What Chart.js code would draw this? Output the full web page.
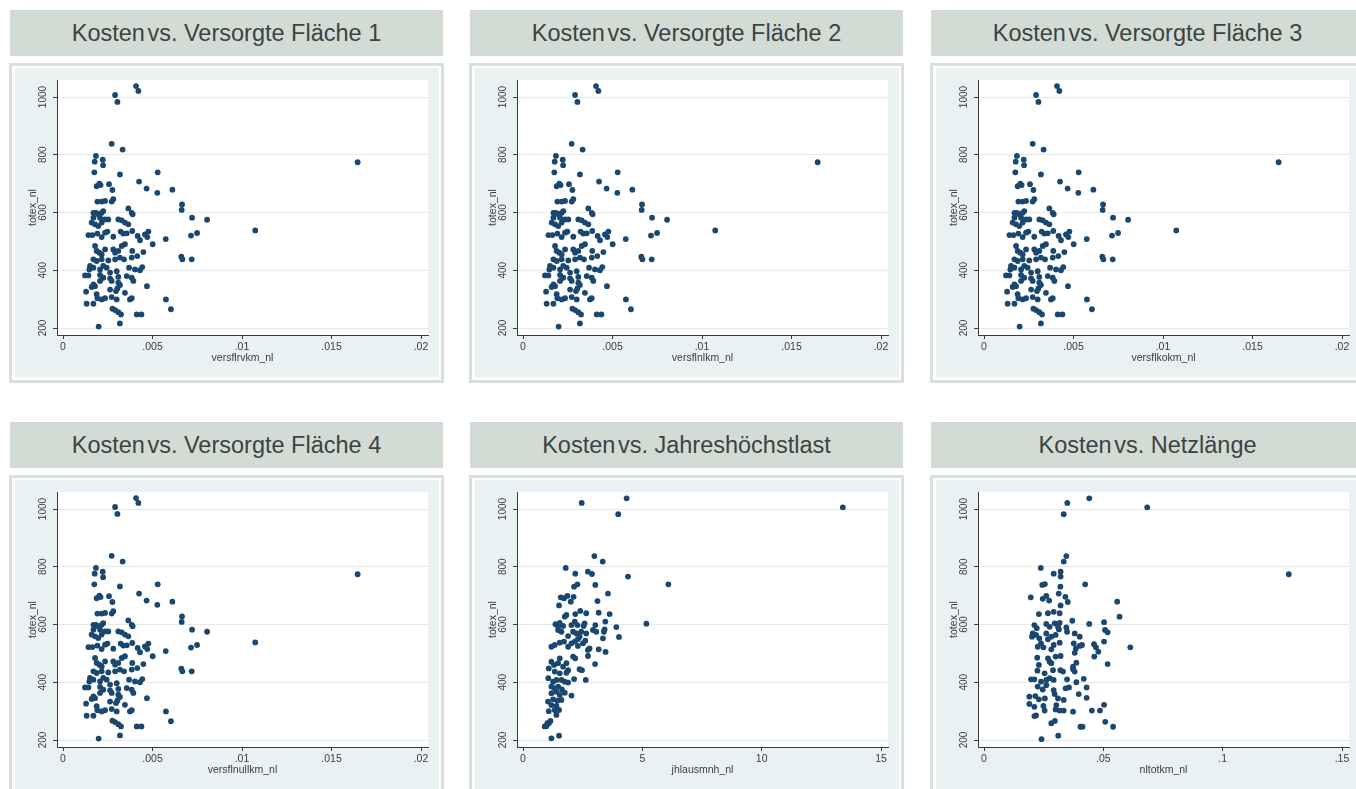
<!DOCTYPE html>
<html>
<head>
<meta charset="utf-8">
<script src="https://cdn.jsdelivr.net/npm/chart.js@4.4.0/dist/chart.umd.min.js"></script>
<style>
  body { margin: 0; width: 1356px; height: 789px; overflow: hidden; background: #fff; position: relative;
         font-family: "Liberation Sans", Arial, sans-serif; }
  .head { position: absolute; width: 433px; height: 46px; background: #d3dcd4; color: #3c4246;
          font-size: 23.5px; line-height: 46px; text-align: center; white-space: nowrap; }
  .head .k { word-spacing: -4px; }
  .frame { position: absolute; width: 435px; height: 320px; box-sizing: border-box;
           border: 3px solid #d8e0d9; background: #fff; }
  .frame canvas { position: absolute; left: 3px; top: 2px; background: #eaf1f3; }
</style>
</head>
<body>
<script>
// totex_nl vs. versorgte Fläche (same scatter in all four Fläche panels)
const FLAECHE_X = [
  .00408, .00421, .00291, .00304, .00272, .00333, .00184, .00177, .00222, .00224,
  .00175, .00318, .00529, .00188, .00203, .00210, .00257, .00276, .00425, .00467,
  .00527, .00611, .00192, .00216, .00235, .00272, .00281, .00665, .00663, .00365,
  .00384, .00389, .00170, .00184, .00197, .00207, .00216, .00225, .00170, .00160,
  .00179, .00197, .00216, .00235, .00253, .00309, .00328, .00346, .00365, .00721,
  .00805, .00142, .00164, .00192, .00216, .00235, .00248, .00281, .00322, .00337,
  .00356, .00387, .00417, .00430, .00458, .00477, .00471, .00574, .00501, .00715,
  .00749, .00179, .00188, .00203, .00216, .00235, .00281, .00291, .00309, .00328,
  .00346, .00387, .00415, .00449, .00170, .00188, .00216, .00253, .00291, .00318,
  .00341, .00384, .00661, .00667, .00719, .00151, .00170, .00147, .00207, .00225,
  .00244, .00263, .00300, .00369, .00402, .00430, .00443, .00123, .00142, .00207,
  .00225, .00263, .00272, .00309, .00356, .00384, .00393, .00170, .00160, .00207,
  .00309, .00318, .00304, .00129, .00179, .00263, .00296, .00346, .00188, .00192,
  .00216, .00235, .00272, .00300, .00374, .00384, .00469, .00132, .00170, .00575,
  .00603, .00276, .00291, .00309, .00324, .00412, .00438, .00199, .00318, .01646, .01074
];
const FLAECHE_Y = [
  1038, 1021, 1007, 983, 838, 818, 796, 776, 783, 764,
  739, 732, 739, 691, 700, 695, 698, 678, 707, 683,
  668, 679, 638, 638, 640, 638, 646, 628, 609, 614,
  599, 594, 599, 599, 594, 582, 599, 605, 582, 565,
  559, 553, 565, 576, 576, 576, 573, 565, 559, 582,
  575, 522, 522, 527, 515, 530, 534, 516, 534, 527,
  528, 536, 519, 504, 524, 534, 515, 508, 490, 520,
  529, 484, 467, 461, 455, 472, 472, 461, 467, 484,
  490, 467, 449, 463, 438, 432, 438, 434, 438, 444,
  438, 444, 447, 438, 438, 415, 409, 403, 403, 415,
  409, 392, 397, 409, 403, 400, 411, 382, 382, 384,
  374, 372, 363, 377, 380, 374, 363, 351, 342, 363,
  357, 349, 337, 326, 345, 333, 328, 322, 317, 303,
  299, 303, 307, 299, 299, 303, 345, 284, 284, 299,
  265, 267, 262, 255, 247, 247, 247, 205, 216, 774, 538
];

// totex_nl vs. Jahreshöchstlast
const LAST_X = [
  2.46, 4.34, 3.99, 2.99, 3.34, 1.79, 2.19, 2.72, 2.89, 4.40,
  2.14, 2.28, 3.03, 6.09, 3.56, 1.58, 1.72, 1.86, 2.12, 2.00,
  3.12, 1.51, 2.40, 1.82, 1.75, 2.19, 2.65, 3.17, 3.63, 1.36,
  1.47, 1.54, 1.68, 2.03, 2.17, 2.28, 2.58, 2.54, 3.03, 3.45,
  3.91, 5.17, 1.47, 1.61, 1.89, 2.10, 2.24, 2.37, 2.44, 2.65,
  2.93, 3.07, 3.39, 3.42, 3.35, 4.02, 1.19, 1.33, 1.54, 1.72,
  1.89, 2.03, 2.17, 2.30, 2.30, 2.51, 2.61, 2.79, 2.72, 3.17,
  3.46, 1.19, 1.30, 1.47, 1.54, 1.68, 1.82, 1.89, 2.10, 2.19,
  2.37, 2.47, 2.72, 3.02, 1.08, 1.33, 1.54, 1.82, 1.06, 1.26,
  1.40, 1.61, 1.75, 1.89, 2.14, 2.63, 1.19, 1.33, 1.47, 1.63,
  1.19, 1.40, 1.54, 1.75, 2.03, 1.05, 1.26, 1.44, 1.61, 1.19,
  1.40, 1.08, 1.33, 1.51, 1.40, 0.98, 1.08, 1.15, 1.02, 1.19,
  1.51, 0.91, 13.40
];
const LAST_Y = [
  1021, 1037, 982, 837, 818, 796, 776, 783, 775, 766,
  731, 739, 737, 739, 707, 694, 691, 699, 696, 679,
  681, 666, 647, 633, 627, 636, 639, 641, 636, 601,
  593, 606, 595, 598, 610, 598, 604, 595, 598, 610,
  591, 603, 581, 575, 560, 575, 569, 558, 575, 569,
  581, 575, 575, 583, 552, 557, 523, 529, 537, 541,
  523, 535, 541, 549, 526, 535, 544, 517, 512, 514,
  505, 471, 460, 466, 483, 454, 466, 442, 489, 483,
  445, 442, 491, 463, 448, 437, 431, 433, 414, 402,
  408, 408, 402, 399, 411, 408, 385, 379, 385, 375,
  362, 367, 356, 364, 354, 333, 341, 336, 339, 321,
  318, 300, 304, 304, 287, 248, 258, 266, 258, 206,
  215, 247, 1006
];

// totex_nl vs. Netzlänge
const NETZ_X = [
  .0349, .0441, .0334, .0345, .0334, .0238, .0292, .0321, .0321, .0424,
  .0244, .0255, .0320, .0196, .0246, .0261, .0273, .0313, .0341, .0351,
  .0321, .0558, .0568, .0230, .0268, .0292, .0317, .0370, .0441, .0503,
  .0211, .0221, .0261, .0275, .0296, .0310, .0317, .0345, .0348, .0507,
  .0518, .0380, .0401, .0204, .0201, .0218, .0232, .0261, .0268, .0282,
  .0300, .0314, .0225, .0239, .0249, .0282, .0292, .0317, .0376, .0385,
  .0401, .0380, .0411, .0461, .0469, .0479, .0503, .0462, .0613, .0223,
  .0268, .0275, .0282, .0300, .0321, .0387, .0373, .0230, .0224, .0289,
  .0320, .0331, .0373, .0380, .0518, .0254, .0197, .0211, .0239, .0261,
  .0275, .0292, .0348, .0387, .0418, .0225, .0246, .0261, .0292, .0342,
  .0356, .0430, .0190, .0215, .0230, .0255, .0296, .0310, .0334, .0397,
  .0430, .0190, .0211, .0249, .0303, .0503, .0254, .0300, .0317, .0334,
  .0373, .0452, .0486, .0211, .0218, .0282, .0297, .0404, .0413, .0508,
  .0541, .0241, .0311, .0684, .1277
];
const NETZ_Y = [
  1021, 1037, 982, 837, 818, 796, 776, 783, 766, 739,
  737, 740, 731, 694, 689, 699, 683, 707, 696, 678,
  666, 679, 627, 636, 639, 644, 639, 613, 602, 608,
  598, 587, 602, 592, 604, 592, 606, 590, 575, 581,
  573, 569, 558, 569, 558, 564, 552, 569, 549, 558,
  564, 583, 523, 535, 521, 514, 529, 537, 535, 517,
  526, 502, 529, 532, 521, 506, 541, 489, 521, 485,
  483, 471, 466, 489, 491, 468, 454, 460, 440, 442,
  442, 437, 445, 437, 463, 431, 410, 410, 402, 408,
  414, 408, 410, 400, 412, 385, 375, 390, 373, 379,
  382, 382, 350, 352, 341, 344, 359, 344, 339, 359,
  346, 325, 315, 318, 321, 322, 302, 306, 302, 302,
  298, 302, 302, 283, 285, 258, 266, 246, 246, 263,
  246, 203, 215, 1006, 774
];

const Y_TICKS = [200, 400, 600, 800, 1000];
const Y_LABELS = ['200', '400', '600', '800', '1000'];
const X_TICKS_FLAECHE = [0, .005, .01, .015, .02];
const X_LABELS_FLAECHE = ['0', '.005', '.01', '.015', '.02'];
const X_TICKS_LAST = [0, 5, 10, 15];
const X_LABELS_LAST = ['0', '5', '10', '15'];
const X_TICKS_NETZ = [0, .05, .1, .15];
const X_LABELS_NETZ = ['0', '.05', '.1', '.15'];

const DOT = '#1a476f';
const INK = '#383c40';
const COL_LEFT = [9, 469, 930];
const ROW_TOP = [63, 475];

const PANELS = [
  { title: 'Versorgte Fläche 1', xTitle: 'versflrvkm_nl', xs: FLAECHE_X, ys: FLAECHE_Y, ticks: X_TICKS_FLAECHE, labels: X_LABELS_FLAECHE },
  { title: 'Versorgte Fläche 2', xTitle: 'versflnlkm_nl', xs: FLAECHE_X, ys: FLAECHE_Y, ticks: X_TICKS_FLAECHE, labels: X_LABELS_FLAECHE },
  { title: 'Versorgte Fläche 3', xTitle: 'versflkokm_nl', xs: FLAECHE_X, ys: FLAECHE_Y, ticks: X_TICKS_FLAECHE, labels: X_LABELS_FLAECHE },
  { title: 'Versorgte Fläche 4', xTitle: 'versflnullkm_nl', xs: FLAECHE_X, ys: FLAECHE_Y, ticks: X_TICKS_FLAECHE, labels: X_LABELS_FLAECHE },
  { title: 'Jahreshöchstlast', xTitle: 'jhlausmnh_nl', xs: LAST_X, ys: LAST_Y, ticks: X_TICKS_LAST, labels: X_LABELS_LAST },
  { title: 'Netzlänge', xTitle: 'nltotkm_nl', xs: NETZ_X, ys: NETZ_Y, ticks: X_TICKS_NETZ, labels: X_LABELS_NETZ },
];

Chart.defaults.font.family = '"Liberation Sans", Arial, sans-serif';

// white plot region inside the light blue graph region
const plotRegion = {
  id: 'plotRegion',
  beforeDraw(chart) {
    const a = chart.chartArea;
    chart.ctx.save();
    chart.ctx.fillStyle = '#fff';
    chart.ctx.fillRect(a.left, a.top, a.right - a.left, a.bottom - a.top);
    chart.ctx.restore();
  },
};

PANELS.forEach((p, i) => {
  const col = i % 3, row = Math.floor(i / 3);

  const head = document.createElement('div');
  head.className = 'head';
  head.style.left = (COL_LEFT[col] + 1) + 'px';
  head.style.top = (ROW_TOP[row] - 53) + 'px';
  head.innerHTML = '<span class="k">Kosten </span>vs. ' + p.title;
  document.body.appendChild(head);

  const frame = document.createElement('div');
  frame.className = 'frame';
  frame.style.left = COL_LEFT[col] + 'px';
  frame.style.top = ROW_TOP[row] + 'px';
  const canvas = document.createElement('canvas');
  canvas.width = 424;
  canvas.height = 309;
  frame.appendChild(canvas);
  document.body.appendChild(frame);

  const xEnd = p.ticks[p.ticks.length - 1];
  new Chart(canvas, {
    type: 'scatter',
    data: {
      datasets: [{
        data: p.xs.map((x, k) => ({ x, y: p.ys[k] })),
        backgroundColor: DOT,
        borderWidth: 0,
        pointRadius: 2.9,
        pointHoverRadius: 2.9,
      }],
    },
    options: {
      responsive: false,
      animation: false,
      devicePixelRatio: 1,
      layout: { padding: { top: 12, right: 11, left: 0, bottom: 0 } },
      plugins: { legend: { display: false }, tooltip: { enabled: false } },
      scales: {
        x: {
          type: 'linear',
          min: -xEnd * 6 / 358,
          max: xEnd * (1 + 7 / 358),
          afterBuildTicks: s => { s.ticks = p.ticks.map(v => ({ value: v })); },
          afterFit: s => { s.height = 42; },
          ticks: { callback: (v, k) => p.labels[k], color: INK, font: { size: 10.5 }, padding: 2, maxRotation: 0, autoSkip: false },
          grid: { drawOnChartArea: false, drawTicks: true, tickLength: 4, tickColor: INK },
          border: { color: INK, width: 1 },
          title: { display: true, text: p.xTitle, color: INK, font: { size: 10.5 }, padding: { top: 0, bottom: 13 } },
        },
        y: {
          type: 'linear',
          min: 175.8,
          max: 1058.9,
          afterBuildTicks: s => { s.ticks = Y_TICKS.map(v => ({ value: v })); },
          afterFit: s => { s.width = 42; },
          ticks: { callback: (v, k) => Y_LABELS[k], color: INK, font: { size: 10 }, minRotation: 90, maxRotation: 90,
                   crossAlign: 'center', padding: -1 },
          grid: { color: '#e3ebee', lineWidth: 1, drawTicks: true, tickLength: 4, tickColor: INK },
          border: { color: INK, width: 1 },
          title: { display: true, text: 'totex_nl', color: INK, font: { size: 10.5 }, padding: { top: 12, bottom: 0 } },
        },
      },
    },
    plugins: [plotRegion],
  });
});
</script>
</body>
</html>
